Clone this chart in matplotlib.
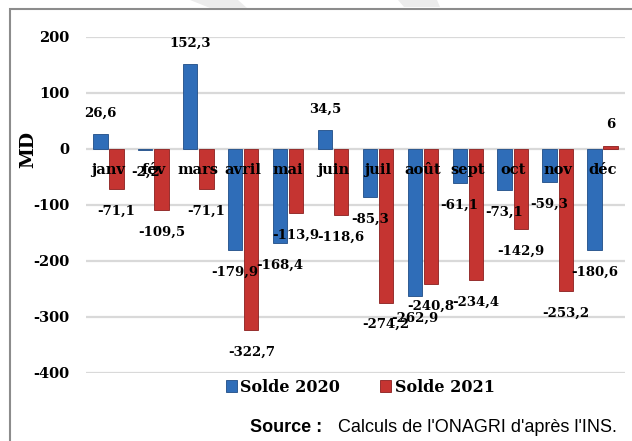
import matplotlib.pyplot as plt
from matplotlib.patches import Rectangle, Polygon
import numpy as np

# data (MD)
months = ['janv', 'fév', 'mars', 'avril', 'mai', 'juin', 'juil', 'août', 'sept', 'oct', 'nov', 'déc']
solde_2020 = [26.6, -2.2, 152.3, -179.9, -168.4, 34.5, -85.3, -262.9, -61.1, -73.1, -59.3, -180.6]
solde_2021 = [-71.1, -109.5, -71.1, -322.7, -113.9, -118.6, -274.2, -240.8, -234.4, -142.9, -253.2, 6]
yticks = [200, 100, 0, -100, -200, -300, -400]

serif = 'DejaVu Serif'

fig = plt.figure(figsize=(6.32, 4.41), dpi=100)
ax = fig.add_axes([86/632, 1-373/441, 539/632, 336/441])

x = np.arange(len(months))
w = 0.32
b1 = ax.bar(x - w/2 - 0.02, solde_2020, w, color='#2F6DB8', edgecolor='#1F4C86', linewidth=0.6, zorder=3)
b2 = ax.bar(x + w/2 + 0.02, solde_2021, w, color='#C53431', edgecolor='#8A1F1E', linewidth=0.6, zorder=3)

# data labels: outside the bar end
def fmt(v):
    s = ('%.1f' % v).replace('.', ',')
    if s.endswith(',0'):
        s = s[:-2]
    return s

for bars, vals in [(b1, solde_2020), (b2, solde_2021)]:
    for r, v in zip(bars, vals):
        off = 15 if v >= 0 else -16
        ax.annotate(fmt(v), (r.get_x() + r.get_width()/2, v), xytext=(0, off),
                    textcoords='offset points', ha='center', va='center',
                    fontsize=9.5, fontweight='bold', family=serif, zorder=5)

# month names sit just under the zero line
for i, m in enumerate(months):
    ax.annotate(m, (i, 0), xytext=(0, -15), textcoords='offset points',
                ha='center', va='center', fontsize=10.5, fontweight='bold',
                family=serif, zorder=4)

ax.set_xlim(-0.5, len(months) - 0.5)
ax.set_ylim(-400, 200)
ax.set_yticks(yticks)
ax.set_yticklabels([str(t) for t in yticks], fontsize=10.5, fontweight='bold', family=serif)
ax.set_xticks([])
ax.tick_params(axis='y', length=0, pad=12)
ax.yaxis.grid(True, color='#D9D9D9', linewidth=1.6, zorder=0)
for s in ax.spines.values():
    s.set_visible(False)
# MD label centred on the zero line, as in the original
ax.set_ylabel('MD', fontsize=13.5, fontweight='bold', family=serif)
ax.yaxis.set_label_coords(-0.091, 2/3)

leg = ax.legend([b1, b2], ['Solde 2020', 'Solde 2021'], loc='center',
                bbox_to_anchor=(0.57, 1-387/441), bbox_transform=fig.transFigure,
                ncol=2, frameon=False, handlelength=0.7, handleheight=0.7,
                handletextpad=0.2, columnspacing=2.5,
                prop={'family': serif, 'weight': 'bold', 'size': 11.5})

# source line
fig.text(250/632, 1-428/441, 'Source :', fontsize=13, fontweight='bold',
         family='Liberation Sans', va='center', ha='left')
fig.text(617/632, 1-428/441, "Calculs de l'ONAGRI d'après l'INS.", fontsize=13,
         family='Liberation Sans', va='center', ha='right')

# outer frame
fig.patches.append(Rectangle((10/632, -0.1), 1.0, 1 - 9/441 + 0.1, transform=fig.transFigure,
                             fill=False, edgecolor='#8C8C8C', linewidth=1.5))
# faint watermark bits at the top
fig.patches.append(Polygon([(190/632, 1), (238/632, 1), (247/632, 1-8/441), (210/632, 1-8/441)],
                           closed=True, transform=fig.transFigure, facecolor='#ECECEC', edgecolor='none'))
fig.patches.append(Polygon([(398/632, 1), (437/632, 1), (440/632, 1-7/441), (404/632, 1-7/441)],
                           closed=True, transform=fig.transFigure, facecolor='#ECECEC', edgecolor='none'))

plt.savefig('out.png', dpi=100)
